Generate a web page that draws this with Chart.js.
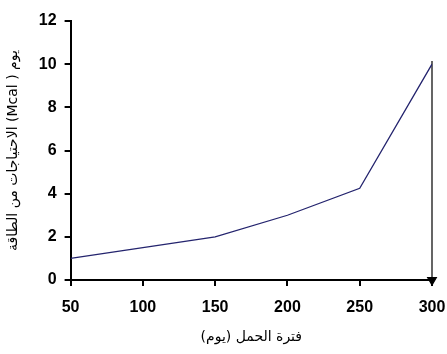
<!DOCTYPE html>
<html>
<head>
<meta charset="utf-8">
<script src="https://cdn.jsdelivr.net/npm/chart.js@4"></script>
<style>
  html, body { margin: 0; padding: 0; background: #fff; }
  #wrap { width: 447px; height: 354px; }
</style>
</head>
<body>
<div id="wrap"><canvas id="chart"></canvas></div>
<script>
// Gestation period (days) and energy needs (Mcal/day)
const days = [50, 150, 200, 250, 300];
const energy = [1, 2, 3, 4.25, 10];

// Vertical arrow at the end of the curve
const arrowX = [300, 300];
const arrowY = [10.15, 0];

const xTicks = [50, 100, 150, 200, 250, 300];
const xTitle = 'فترة الحمل (يوم)';
const yTitle = 'الاحتياجات من الطاقة (Mcal ) يوم';

const ctx = document.getElementById('chart').getContext('2d');

new Chart(ctx, {
    type: 'line',
    data: {
        datasets: [{
            data: days.map((d, i) => ({ x: d, y: energy[i] })),
            borderColor: '#24246e',
            borderWidth: 1.3,
            pointRadius: 0,
            tension: 0
        }, {
            data: arrowX.map((d, i) => ({ x: d, y: arrowY[i] })),
            borderColor: '#000',
            borderWidth: 1.2,
            pointStyle: 'triangle',
            pointRotation: 180,
            pointRadius: [0, 5],
            pointBackgroundColor: '#000',
            pointBorderColor: '#000',
            clip: false,
            tension: 0
        }]
    },
    options: {
        responsive: true,
        maintainAspectRatio: false,
        animation: false,
        layout: { padding: { top: 21, right: 15, left: 1, bottom: 4 } },
        plugins: {
            legend: { display: false },
            tooltip: { enabled: false }
        },
        scales: {
            x: {
                type: 'linear',
                min: 50,
                max: 300,
                afterBuildTicks: axis => { axis.ticks = xTicks.map(v => ({ value: v })); },
                afterFit: axis => { axis.paddingRight = 0; },
                grid: { drawOnChartArea: false, color: '#000', tickLength: 6, lineWidth: 2 },
                border: { color: '#000', width: 2 },
                ticks: {
                    color: '#000',
                    padding: 12,
                    maxRotation: 0,
                    font: { family: 'Liberation Sans, Arial', size: 16, weight: 'bold' }
                },
                title: {
                    display: true,
                    text: xTitle,
                    color: '#000',
                    padding: { top: 0 },
                    font: { family: 'DejaVu Sans', size: 14 }
                }
            },
            y: {
                min: 0,
                max: 12,
                ticks: {
                    stepSize: 2,
                    color: '#000',
                    padding: 8,
                    font: { family: 'Liberation Sans, Arial', size: 16, weight: 'bold' }
                },
                grid: { drawOnChartArea: false, color: '#000', tickLength: 6, lineWidth: 2 },
                border: { color: '#000', width: 2 },
                title: {
                    display: true,
                    text: yTitle,
                    color: '#000',
                    padding: { bottom: 9 },
                    font: { family: 'DejaVu Sans', size: 14 }
                }
            }
        }
    }
});
</script>
</body>
</html>
